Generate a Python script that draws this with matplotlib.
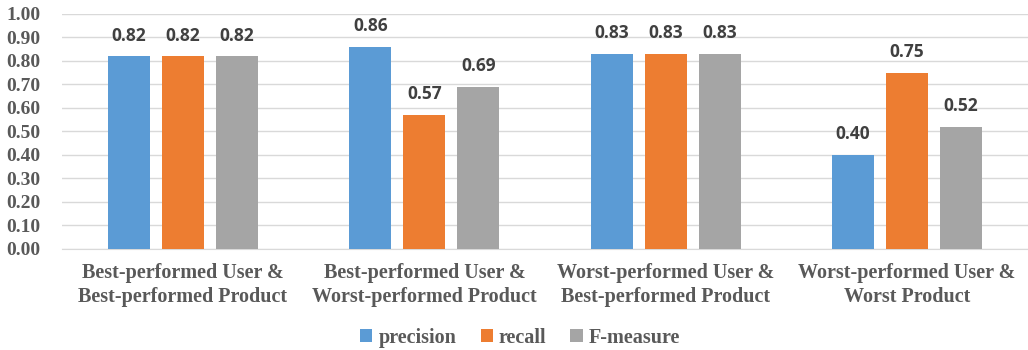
import numpy as np
import matplotlib.pyplot as plt

# scores per user/product pairing
categories = ['Best-performed User &\nBest-performed Product',
              'Best-performed User &\nWorst-performed Product',
              'Worst-performed User &\nBest-performed Product',
              'Worst-performed User &\nWorst Product']
precision = [0.82, 0.86, 0.83, 0.40]
recall = [0.82, 0.57, 0.83, 0.75]
fmeasure = [0.82, 0.69, 0.83, 0.52]
series_names = ['precision', 'recall', 'F-measure']
colors = ['#5B9BD5', '#ED7D31', '#A5A5A5']

fig = plt.figure(figsize=(10.28, 3.5), dpi=100)
ax = fig.add_axes([0.0607, 0.2886, 0.939, 0.6714])

x = np.arange(len(categories))
w = 0.174
offsets = [-0.224, 0, 0.224]
for vals, off, c, name in zip([precision, recall, fmeasure], offsets, colors, series_names):
    bars = ax.bar(x + off, vals, w, color=c, label=name, zorder=3)
    for b, v in zip(bars, vals):
        ax.text(b.get_x() + b.get_width() / 2, v + 0.05, '%.2f' % v,
                ha='center', va='bottom', fontsize=12.5, fontweight='bold',
                color='#404040', family='Open Sans')

ax.set_xlim(-0.5, 3.5)
ax.set_ylim(0, 1.0)
ax.set_yticks(np.arange(0, 1.01, 0.1))
ax.set_yticklabels(['%.2f' % t for t in np.arange(0, 1.01, 0.1)])
ax.yaxis.grid(True, color='#D9D9D9', linewidth=1, zorder=0)
ax.set_xticks(x)
ax.set_xticklabels(categories, linespacing=1.3)
for s in ['top', 'right', 'left']:
    ax.spines[s].set_visible(False)
ax.spines['bottom'].set_color('#D9D9D9')
ax.tick_params(axis='both', length=0, colors='#595959')
ax.tick_params(axis='y', pad=16)
ax.tick_params(axis='x', pad=10)
for lbl in ax.get_yticklabels():
    lbl.set_fontproperties({'family': 'Liberation Serif', 'weight': 'bold', 'size': 14})
for lbl in ax.get_xticklabels():
    lbl.set_fontproperties({'family': 'Liberation Serif', 'weight': 'bold', 'size': 14.5})

leg = fig.legend(loc='center', bbox_to_anchor=(0.506, 0.035), ncol=3, frameon=False,
                 handlelength=0.6, handleheight=0.6, handletextpad=0.3, columnspacing=1.2,
                 prop={'family': 'Liberation Serif', 'weight': 'bold', 'size': 14.5})
for t in leg.get_texts():
    t.set_color('#595959')

fig.savefig('out.png', dpi=100)
